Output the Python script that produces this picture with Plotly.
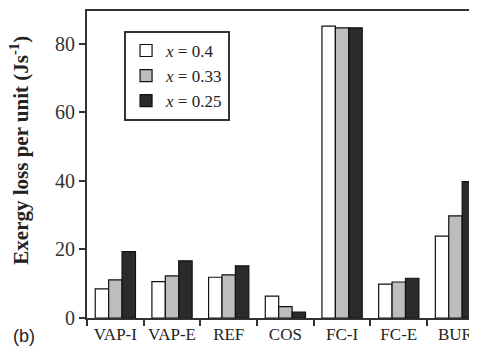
import plotly.graph_objects as go

categories = ["VAP-I", "VAP-E", "REF", "COS", "FC-I", "FC-E", "BUR"]
x040 = [8.5, 10.6, 11.9, 6.4, 85.2, 9.9, 23.9]
x033 = [11.1, 12.3, 12.6, 3.3, 84.7, 10.5, 29.8]
x025 = [19.4, 16.7, 15.2, 1.7, 84.7, 11.6, 39.8]
series_names = ["<i>x</i> = 0.4", "<i>x</i> = 0.33", "<i>x</i> = 0.25"]
colors = ["#ffffff", "#bdbdbd", "#2b2b2b"]
y_ticks = [0, 20, 40, 60, 80]

SERIF = "Liberation Serif"
# page body has an 8px default margin; the figure is sized so that it fills the window
OFF = 8
fig = go.Figure()
for name, vals, col in zip(series_names, [x040, x033, x025], colors):
    fig.add_trace(go.Bar(x=categories, y=vals, name=name,
                         marker=dict(color=col, line=dict(color="#111111", width=1.2))))

fig.update_layout(
    width=477 - OFF, height=356 - OFF,
    margin=dict(l=87 - OFF, r=0, t=11 - OFF, b=38, autoexpand=False),
    paper_bgcolor="white", plot_bgcolor="white",
    barmode="group", bargap=0.29, bargroupgap=0,
    font=dict(family=SERIF, color="#222222"),
    showlegend=True,
    legend=dict(x=0.095, y=0.935, xanchor="left", yanchor="top",
                bordercolor="#333333", borderwidth=2, bgcolor="white",
                font=dict(family=SERIF, size=17, color="#222222"),
                itemwidth=30, tracegroupgap=0),
    xaxis=dict(type="category", range=[-0.5, 6.38], showline=True, linecolor="#333333",
               linewidth=2, mirror=True, ticks="outside", tickson="boundaries",
               ticklen=6, tickcolor="#333333", tickwidth=1.5, tickangle=0, automargin=False,
               tickfont=dict(family=SERIF, size=17, color="#222222"), showgrid=False),
    yaxis=dict(range=[0, 89.6], tickvals=y_ticks, showline=True, linecolor="#333333",
               linewidth=2, ticks="outside", ticklen=6, tickcolor="#333333", tickwidth=1.5,
               automargin=False,
               tickfont=dict(family=SERIF, size=20, color="#333333"), showgrid=False,
               zeroline=False),
    annotations=[
        dict(text="<b>Exergy loss per unit (Js<sup>-1</sup>)</b>", textangle=-90,
             xref="paper", yref="paper", x=(20 - 87) / 390, y=0.545,
             xanchor="center", yanchor="middle", showarrow=False,
             font=dict(family=SERIF, size=21, color="#222222")),
        dict(text="(b)", xref="paper", yref="paper", x=(11 - 87) / 390, y=(318 - 336) / 307,
             xanchor="left", yanchor="middle", showarrow=False,
             font=dict(family="Liberation Sans", size=18, color="#222222")),
    ],
)

fig.write_html("out.html")
